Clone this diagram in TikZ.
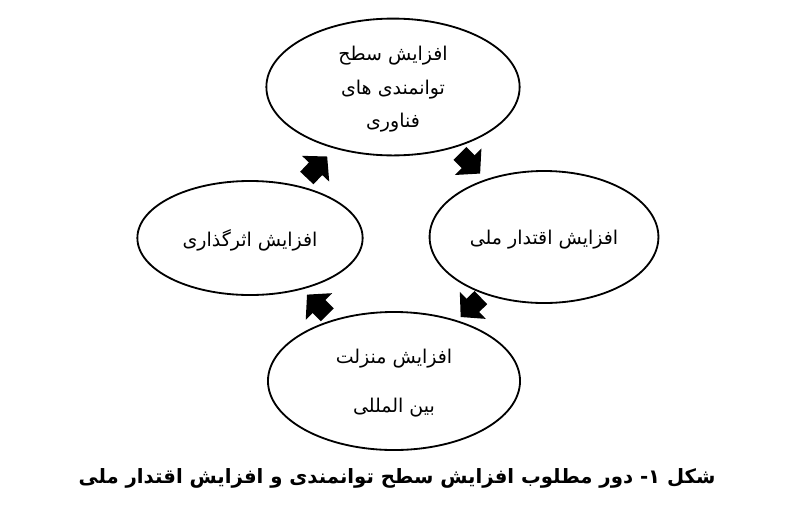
\documentclass[tikz,border=0pt]{standalone}
\usepackage{fontspec}
\usepackage{tikz}
\usetikzlibrary{shapes.geometric, arrows.meta, positioning, calc}
\newfontfamily\arabicfont[Script=Arabic]{DejaVu Sans}
\TeXXeTstate=1

\begin{document}
\begin{tikzpicture}[x=0.025cm, y=-0.025cm,
        goal/.style={ellipse, draw=black, line width=1.3pt, inner sep=0pt, align=center,
            text depth=-7pt, font=\arabicfont\fontsize{13.5}{24}\selectfont},
        cyclearrow/.style={line width=13pt, shorten <=#1, shorten >=#1,
            -{Triangle[length=12pt 0 0, width=26pt 0 0]}},
        cyclearrow/.default=0.22cm]
        \useasboundingbox (0, 0) rectangle (787, 527);

        % the four stages of the cycle
        \node[goal, minimum width=6.33cm, minimum height=3.42cm] (tech) at (393, 87)
            {\beginR افزایش سطح\endR\\ \beginR توانمندی های\endR\\ \beginR فناوری\endR};
        \node[goal, minimum width=5.72cm, minimum height=3.3cm] (power) at (544, 237)
            {\beginR افزایش اقتدار ملی\endR};
        \node[goal, minimum width=6.3cm, minimum height=3.45cm] (status) at (394, 381)
            {\beginR افزایش منزلت\endR\\[11pt] \beginR بین المللی\endR};
        \node[goal, minimum width=5.63cm, minimum height=2.85cm] (impact) at (250, 238)
            {\beginR افزایش اثرگذاری\endR};

        \draw[cyclearrow=0.2cm] (tech) -- (power);
        \draw[cyclearrow=0.12cm] (power) -- (status);
        \draw[cyclearrow=0.18cm] (status) -- (impact);
        \draw[cyclearrow=0.27cm] (impact) -- (tech);

        \node[font=\arabicfont\bfseries\fontsize{14}{17}\selectfont] (caption) at (397, 478)
            {\beginR شکل ۱- دور مطلوب افزایش سطح توانمندی و افزایش اقتدار ملی\endR};

      \end{tikzpicture}
\end{document}
